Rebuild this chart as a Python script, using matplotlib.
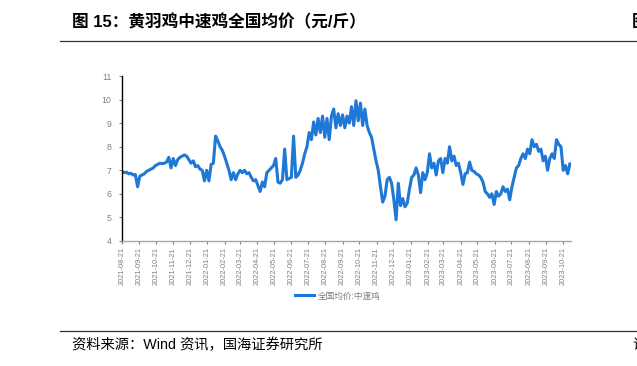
import matplotlib
matplotlib.use('Agg')
import matplotlib.pyplot as plt
import pandas as pd

# ---- data ----
start_date = '2021-08-21'
step = '4D'
prices = [
    6.95, 6.9, 6.92, 6.85, 6.87, 6.8, 6.82, 6.3,
    6.75, 6.8, 6.85, 6.95, 7.0, 7.05, 7.1, 7.2, 7.25, 7.3, 7.28, 7.3, 7.35, 7.55, 7.1,
    7.5, 7.2, 7.45, 7.55, 7.6, 7.65, 7.6, 7.45,
    7.3, 7.4, 7.15, 7.2, 7.05, 7.0, 6.55, 7.0, 6.55, 7.25, 7.3,
    8.45, 8.25, 8.0, 7.85, 7.6, 7.3, 7.0, 6.6, 6.9, 6.6,
    6.85, 7.0, 6.9, 7.0, 6.85, 6.9, 6.7, 6.55, 6.6, 6.35, 6.1,
    6.5, 6.3, 6.9, 7.0, 7.1, 7.2, 7.5, 6.5, 6.45, 6.6, 7.9, 6.6, 6.65, 6.7, 8.45,
    6.7, 6.8, 7.0, 7.3, 7.7, 8.0,
    8.6, 8.3, 9.05, 8.5, 9.2, 8.6, 9.3, 8.4, 9.2, 8.3, 9.3,
    9.6, 8.8, 9.4, 8.9, 9.35, 8.8, 9.3, 9.0, 9.7, 8.9, 9.95, 9.1, 9.85, 8.9, 9.6, 8.9,
    8.6, 8.4, 7.9, 7.4, 7.0, 6.3, 5.65, 5.9, 6.6, 6.7, 6.45, 5.75, 4.9, 6.45, 5.5,
    5.8, 5.45, 5.6, 6.2, 6.7, 6.8, 7.1, 6.8, 6.05, 6.9, 6.6, 6.9, 7.7, 7.1, 7.3, 6.8,
    7.4, 7.5, 6.9, 7.5, 7.3, 8.0, 7.4, 7.6, 7.2, 7.3, 6.9, 6.4, 6.85, 6.9, 7.35, 7.0,
    6.95, 6.85, 6.8, 6.7, 6.5, 6.1, 6.0, 5.85, 6.0, 5.55, 6.1, 5.9, 6.0, 6.3, 6.1,
    6.2, 5.75, 6.3, 6.7, 7.1, 7.2, 7.5, 7.7, 7.5, 7.9, 7.7, 8.3, 8.0, 8.1, 7.8, 7.9,
    7.4, 7.6, 7.0, 7.5, 7.7, 7.5, 8.3, 8.1, 8.0, 7.0, 7.2, 6.85, 7.27,
]
tick_dates = pd.date_range('2021-08-21', '2023-10-21', freq=pd.DateOffset(months=1))
tick_labels = [d.strftime('%Y-%m-%d') for d in tick_dates]
y_ticks = [4, 5, 6, 7, 8, 9, 10, 11]
series_name = '全国均价:中速鸡'
title = '图 15：黄羽鸡中速鸡全国均价（元/斤）'
source = '资料来源：Wind 资讯，国海证券研究所'

fam = ['Liberation Sans', 'Noto Sans CJK SC', 'DejaVu Sans']
plt.rcParams['font.family'] = fam

W, H = 637, 366
fig = plt.figure(figsize=(W / 100, H / 100), dpi=100)
fig.patch.set_facecolor('white')

ax = fig.add_axes([122 / W, 1 - 241 / H, (571 - 122) / W, (241 - 76) / H])
dates = pd.date_range(start_date, periods=len(prices), freq=step)
ax.plot(dates, prices, color='#1F78D6', lw=2.2, label=series_name, solid_joinstyle='round')

ax.set_ylim(4, 11)
ax.set_yticks(y_ticks)
ax.set_yticklabels([str(v) for v in y_ticks], fontsize=6.3, color='#7F7F7F')
ax.set_xlim(pd.Timestamp('2021-08-21'), pd.Timestamp('2023-11-05'))
ax.set_xticks(tick_dates)
ax.set_xticklabels(tick_labels, rotation=90, fontsize=5.3, color='#7F7F7F')

for s in ['top', 'right']:
    ax.spines[s].set_visible(False)
ax.spines['left'].set_color('black')
ax.spines['left'].set_linewidth(1.0)
ax.spines['bottom'].set_color('#A6A6A6')
ax.spines['bottom'].set_linewidth(1.0)
ax.tick_params(axis='both', direction='out', length=2.5, width=0.8, color='#808080', pad=2)
ax.tick_params(axis='y', pad=5)

leg = fig.legend(loc='center', bbox_to_anchor=(338 / W, 1 - 296 / H), frameon=False,
                 prop={'family': fam, 'size': 6.2}, handlelength=2.2, handletextpad=0.4)
for t in leg.get_texts():
    t.set_color('#7F7F7F')

# header / footer
fig.text(72 / W, 1 - 22 / H, title, fontsize=12.0, fontweight='bold', va='center', ha='left',
         color='black')
fig.text(632 / W, 1 - 22 / H, '图', fontsize=12.0, fontweight='bold', va='center', ha='left')
fig.add_artist(plt.Line2D([60 / W, 1], [1 - 40.7 / H] * 2, color='#333333', lw=0.9,
                          transform=fig.transFigure))
fig.add_artist(plt.Line2D([60 / W, 1], [1 - 330.7 / H] * 2, color='#333333', lw=0.9,
                          transform=fig.transFigure))
fig.text(72 / W, 1 - 345 / H, source, fontsize=10.3, va='center', ha='left', color='black')
fig.text(632 / W, 1 - 345 / H, '请', fontsize=10.3, va='center', ha='left')

fig.savefig('out.png', dpi=100, facecolor='white')
